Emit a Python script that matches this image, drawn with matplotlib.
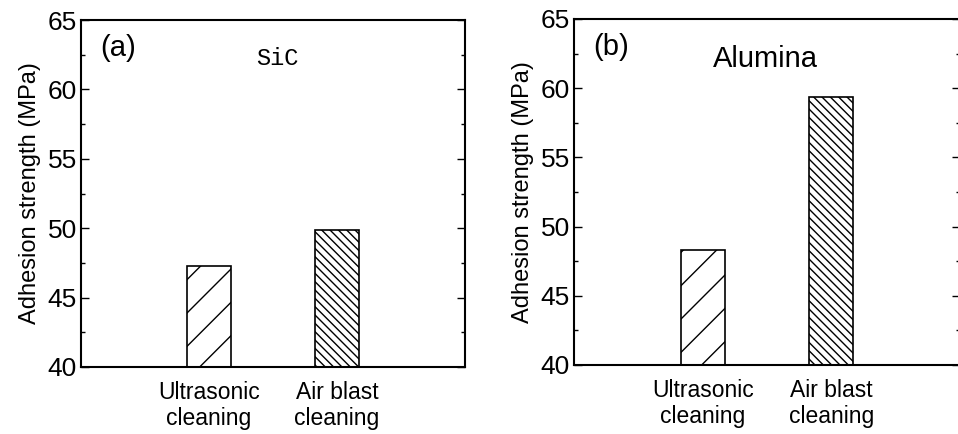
import matplotlib.pyplot as plt
import numpy as np

plt.rcParams['font.family'] = ['Liberation Sans', 'DejaVu Sans']
plt.rcParams['hatch.linewidth'] = 1.0

methods = ['Ultrasonic\ncleaning', 'Air blast\ncleaning']
sic_strength = [47.3, 49.9]
alumina_strength = [48.3, 59.4]
hatches = ['/', '\\\\\\\\']

fig = plt.figure(figsize=(9.58, 4.34), dpi=100)
ax1 = fig.add_axes([81/958, 1-367/434, 384/958, 347/434])
ax2 = fig.add_axes([574/958, 1-365/434, 386/958, 346/434])


def draw(ax, vals):
    x = np.arange(1, len(vals) + 1)
    for xi, v, h in zip(x, vals, hatches):
        ax.bar(xi, v - 40, bottom=40, width=0.34, color='white',
               edgecolor='black', hatch=h, linewidth=1.2)
    ax.set_xlim(0, 3)
    ax.set_ylim(40, 65)
    ax.set_xticks(x)
    ax.set_xticklabels(methods, fontsize=16.5, linespacing=1.15)
    ax.tick_params(axis='x', length=0, pad=10)
    ax.set_yticks([40, 45, 50, 55, 60, 65])
    ax.set_yticks(np.arange(40, 65.1, 2.5), minor=True)
    ax.tick_params(axis='y', which='both', direction='in', right=True,
                   labelsize=19, width=1.0, pad=3)
    ax.tick_params(axis='y', which='major', length=6)
    ax.tick_params(axis='y', which='minor', length=3)
    ax.set_ylabel('Adhesion strength (MPa)', fontsize=17, labelpad=5)
    for s in ax.spines.values():
        s.set_linewidth(1.5)


draw(ax1, sic_strength)
draw(ax2, alumina_strength)

ax1.text(0.05, 0.895, '(a)', transform=ax1.transAxes, fontsize=21)
ax1.text(0.455, 0.87, 'SiC', transform=ax1.transAxes, fontsize=17,
         family='Liberation Mono')
ax2.text(0.05, 0.895, '(b)', transform=ax2.transAxes, fontsize=21)
ax2.text(0.36, 0.86, 'Alumina', transform=ax2.transAxes, fontsize=21)

fig.savefig('out.png', dpi=100)
